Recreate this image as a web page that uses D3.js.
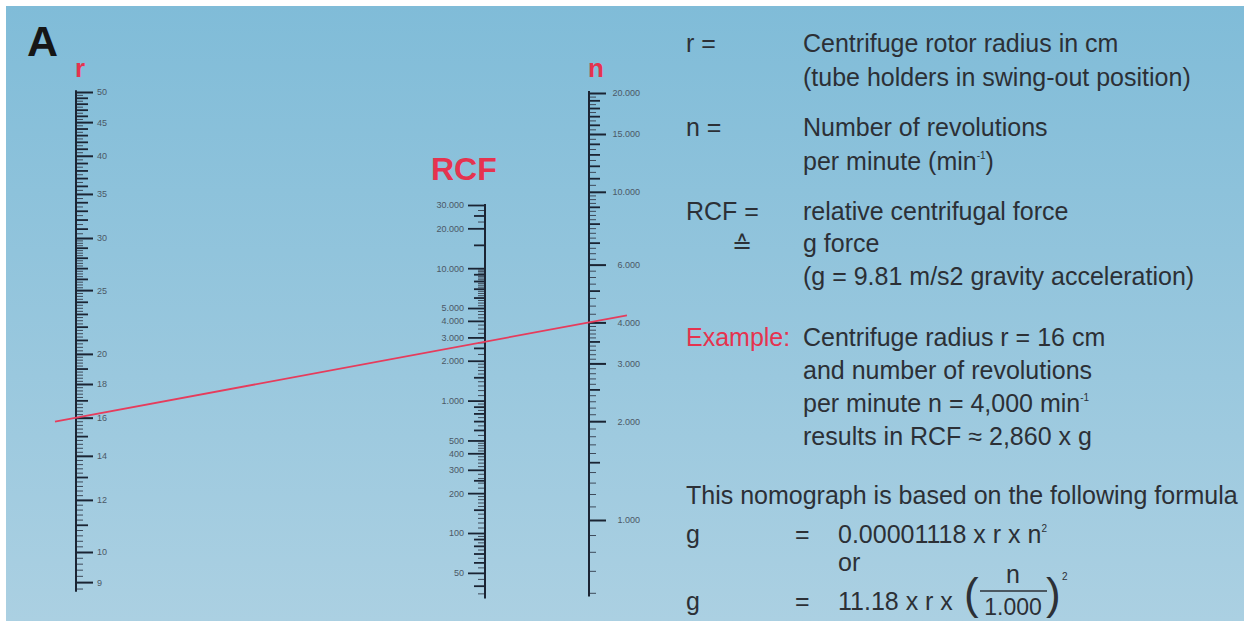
<!DOCTYPE html>
<html>
<head>
<meta charset="utf-8">
<script src="https://cdn.jsdelivr.net/npm/d3@7"></script>
<style>
  body { margin: 0; background: #fff; }
  svg text { font-family: "Liberation Sans", Arial, sans-serif; }
</style>
</head>
<body>
<div id="chart"></div>
<script>
// labelled ticks on the three scales
var rLabels = [9, 10, 12, 14, 16, 18, 20, 25, 30, 35, 40, 45, 50];
var rcfLabels = [50, 100, 200, 300, 400, 500, 1000, 2000, 3000, 4000, 5000, 10000, 20000, 30000];
var nLabels = [1000, 2000, 3000, 4000, 6000, 10000, 15000, 20000];

// how far each scale runs (value at bottom / top of the axis line)
var rExtent = [8.7, 50.3];
var rcfExtent = [32, 30500];
var nExtent = [585, 20300];

// worked example drawn as the red reading line
var exampleR = 16, exampleN = 4000;

// text block on the right
var termLines = [
  {term: "r =", text: ["Centrifuge rotor radius in cm", "(tube holders in swing-out position)"]},
  {term: "n =", text: ["Number of revolutions", "per minute (min|-1|)"]},
  {term: "RCF =", text: ["relative centrifugal force", "g force", "(g = 9.81 m/s2 gravity acceleration)"]},
  {term: "Example:", text: ["Centrifuge radius r = 16 cm", "and number of revolutions", "per minute n = 4,000 min|-1|", "results in RCF \u2248 2,860 x g"]}
];

var width = 1248, height = 621;
var red = "#e5334f", ink = "#2c3036", tickInk = "#1b2433";

var svg = d3.select("#chart").append("svg")
    .attr("width", width)
    .attr("height", height);

var grad = svg.append("defs").append("linearGradient")
    .attr("id", "bg").attr("x1", 0).attr("y1", 0).attr("x2", 0).attr("y2", 1);
grad.append("stop").attr("offset", "0%").attr("stop-color", "#80bcd8");
grad.append("stop").attr("offset", "100%").attr("stop-color", "#abd0e2");

svg.append("rect")
    .attr("x", 6).attr("y", 6)
    .attr("width", width - 10).attr("height", height - 6)
    .attr("fill", "url(#bg)");

// scales (all logarithmic, as in the nomograph)
var yR = d3.scaleLog().domain([10, 50]).range([552, 92]);
var yRCF = d3.scaleLog().domain([100, 30000]).range([533, 205]);
var yN = d3.scaleLog().domain([1000, 20000]).range([520, 93]);

var xR = 76, xRCF = 485, xN = 589;

var dotFmt = d3.formatLocale({decimal: ",", thousands: ".", grouping: [3], currency: ["", ""]}).format(",d");

function clean(arr, exclude) {
  return arr.map(function(d) { return Math.round(d * 100) / 100; })
    .filter(function(d) { return exclude.indexOf(d) < 0; });
}

// r ticks
var rMid = clean(d3.range(9, 51), rLabels);
var rMinor = clean(d3.range(8.8, 20, 0.2).concat(d3.range(20, 30, 0.25), d3.range(30, 50.01, 0.5)), rLabels.concat(rMid));

// RCF ticks
var rcfMid = [40, 60, 70, 80, 90, 150, 250, 600, 700, 800, 900, 1500, 2500, 6000, 7000, 8000, 9000, 15000, 25000];
var rcfMinor = clean(d3.range(35, 100, 5).concat(d3.range(100, 200, 10), d3.range(200, 500, 20),
    d3.range(500, 1000, 50), d3.range(1000, 2000, 100), d3.range(2000, 5000, 250),
    d3.range(5000, 10000, 250), d3.range(20000, 30000, 2500)), rcfLabels.concat(rcfMid));

// n ticks
var nMid = [5000, 7000, 8000, 9000, 11000, 12000, 13000, 14000, 16000, 17000, 18000, 19000, 1500, 2500, 3500];
var nMinor = clean(d3.range(600, 1000, 100).concat(d3.range(1000, 4000, 100),
    d3.range(4000, 10000, 250), d3.range(10000, 20000, 500)), nLabels.concat(nMid));

function tickLayer(x, axisFn, scale, values, size, fmt, color, sw) {
  var g = svg.append("g").attr("transform", "translate(" + x + ",0)");
  g.call(axisFn(scale).tickValues(values).tickSize(size).tickSizeOuter(0)
      .tickPadding(4).tickFormat(fmt || ""));
  g.select(".domain").remove();
  g.selectAll(".tick line").attr("stroke", color).attr("stroke-width", sw);
  g.selectAll(".tick text").attr("fill", "#4b5866").attr("font-size", 9)
    .attr("font-family", "'Liberation Sans', Arial, sans-serif");
  return g;
}

function axisLine(x, scale, ext) {
  svg.append("line")
    .attr("x1", x).attr("x2", x)
    .attr("y1", scale(ext[0])).attr("y2", scale(ext[1]))
    .attr("stroke", tickInk).attr("stroke-width", 2);
}

// r scale
tickLayer(xR, d3.axisRight, yR, rMinor, 7, null, "#3e4a5a", 1);
tickLayer(xR, d3.axisRight, yR, rMid, 12, null, tickInk, 1.8);
tickLayer(xR, d3.axisRight, yR, rLabels, 17, d3.format("d"), tickInk, 2);
axisLine(xR, yR, rExtent);

// RCF scale
tickLayer(xRCF, d3.axisLeft, yRCF, rcfMinor, 7, null, "#3e4a5a", 1);
tickLayer(xRCF, d3.axisLeft, yRCF, rcfMid, 11, null, tickInk, 1.8);
tickLayer(xRCF, d3.axisLeft, yRCF, rcfLabels, 17, dotFmt, tickInk, 1.8);
axisLine(xRCF, yRCF, rcfExtent);

// n scale
tickLayer(xN, d3.axisRight, yN, nMinor, 7, null, "#3e4a5a", 1);
tickLayer(xN, d3.axisRight, yN, nMid, 11, null, tickInk, 1.8);
tickLayer(xN, d3.axisRight, yN, nLabels, 17, dotFmt, tickInk, 2)
  .selectAll(".tick text").attr("x", 51).attr("text-anchor", "end");
axisLine(xN, yN, nExtent);

// scale titles
svg.append("text").attr("x", 27).attr("y", 56).text("A")
  .attr("font-size", 43).attr("font-weight", "bold").attr("fill", "#161616");
svg.append("text").attr("x", 75).attr("y", 77).text("r")
  .attr("font-size", 26).attr("font-weight", "bold").attr("fill", red);
svg.append("text").attr("x", 588).attr("y", 77).text("n")
  .attr("font-size", 26).attr("font-weight", "bold").attr("fill", red);
svg.append("text").attr("x", 431).attr("y", 180).text("RCF")
  .attr("font-size", 32).attr("font-weight", "bold").attr("fill", red);

// red reading line through r = 16 and n = 4000, extended past both axes
var p1 = [xR, yR(exampleR)], p2 = [xN, yN(exampleN)];
function along(t) { return [p1[0] + (p2[0] - p1[0]) * t, p1[1] + (p2[1] - p1[1]) * t]; }
svg.append("path")
  .datum([along(-0.041), along(1.074)])
  .attr("d", d3.line())
  .attr("stroke", "#e63c5c").attr("stroke-width", 1.8).attr("fill", "none");

// right-hand explanation
var fs = 25, termX = 686, textX = 803;
var lineY = [[52, 86], [136, 170], [220, 252, 285], [346, 379, 412, 445]];

// "|" marks a superscript run inside a line
function addText(x, y, str, color) {
  var t = svg.append("text").attr("x", x).attr("y", y)
    .attr("font-size", fs).attr("fill", color || ink);
  str.split("|").forEach(function(p, i) {
    var s = t.append("tspan").text(p);
    if (i % 2 === 1) s.attr("font-size", 10).attr("dy", -11);
    else if (i > 0) s.attr("dy", 11);
  });
  return t;
}

termLines.forEach(function(row, i) {
  addText(termX, lineY[i][0], row.term, row.term === "Example:" ? red : ink);
  row.text.forEach(function(s, j) { addText(textX, lineY[i][j], s); });
});
addText(732, 253, "\u2259").attr("font-family", "'DejaVu Sans', sans-serif").attr("font-size", 24);

addText(termX, 504, "This nomograph is based on the following formula");
addText(termX, 543, "g");
addText(795, 543, "=");
addText(838, 543, "0.00001118 x r x n|2|");
addText(838, 571, "or");
addText(termX, 610, "g");
addText(795, 610, "=");
addText(838, 610, "11.18 x r x");
svg.append("text").attr("x", 964).attr("y", 609).text("(")
  .attr("font-size", 44).attr("fill", ink);
svg.append("text").attr("x", 1013).attr("y", 583).text("n")
  .attr("font-size", fs).attr("fill", ink).attr("text-anchor", "middle");
svg.append("line").attr("x1", 980).attr("x2", 1047).attr("y1", 591).attr("y2", 591)
  .attr("stroke", ink).attr("stroke-width", 1.5);
svg.append("text").attr("x", 1013).attr("y", 615).text("1.000")
  .attr("font-size", 23).attr("fill", ink).attr("text-anchor", "middle");
svg.append("text").attr("x", 1046).attr("y", 609).text(")")
  .attr("font-size", 44).attr("fill", ink);
svg.append("text").attr("x", 1062).attr("y", 580).text("2")
  .attr("font-size", 10).attr("fill", ink);
</script>
</body>
</html>
